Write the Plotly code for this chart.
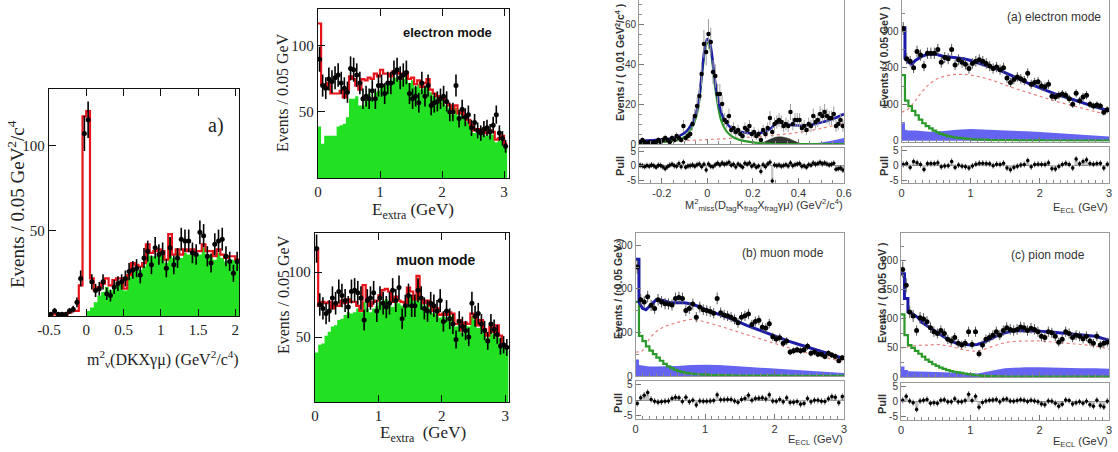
import numpy as np
import plotly.graph_objects as go

W, H = 1118, 452

# ================= DATA =================
# ---- panel a) : m_nu^2 (DKXγμ), bins of 0.05 starting at -0.5
a_start, a_width = -0.5, 0.05
a_total = [1, 1, 1, 1, 1, 2, 3, 3, 18, 117,
           120, 22, 15, 17, 19, 22, 18, 21, 22, 22,
           16, 24, 31, 30, 29, 31, 42, 37, 38, 39,
           38, 33, 48, 36, 39, 36, 39, 38, 39, 38,
           38, 42, 38, 38, 35, 39, 36, 34, 35, 35, 33]
a_background = [0, 0, 0, 0, 0, 0, 0, 0, 0, 0,
                3, 5, 8, 12, 14, 17, 15, 18, 19, 20,
                15, 23, 28, 28, 27, 29, 40, 35, 35, 37,
                36, 31, 46, 34, 37, 34, 37, 36, 37, 36,
                36, 40, 36, 36, 33, 37, 34, 32, 33, 33, 31]
a_data = [1, 3, 1, 1, 1, 3, 4, 8, 22, 107,
          115, 20, 15, 16, 20, 13, 12, 17, 19, 20,
          22, 26, 27, 28, 24, 34, 38, 30, 40, 36,
          37, 28, 40, 30, 34, 45, 44, 44, 37, 36,
          49, 47, 35, 31, 42, 44, 45, 35, 32, 25, 32]

# ---- electron mode E_extra, bins of 0.05 from 0
b_start, b_width = 0.0, 0.05
b_total = [117, 71, 68, 72, 64, 64, 64, 66, 61, 67,
           77, 75, 70, 67, 75, 74, 76, 75, 79, 77,
           82, 79, 79, 77, 81, 80, 79, 78, 80, 75,
           76, 71, 74, 69, 72, 75, 67, 64, 62, 60,
           61, 57, 55, 50, 55, 49, 51, 47, 44, 40,
           36, 37, 36, 35, 34, 36, 35, 29, 30, 32, 26]
b_background = [39, 26, 32, 32, 32, 32, 39, 40, 41, 46,
                60, 60, 62, 55, 55, 60, 64, 60, 65, 66,
                70, 71, 72, 72, 76, 76, 74, 75, 77, 72,
                74, 69, 71, 67, 69, 72, 65, 62, 60, 58,
                59, 55, 53, 48, 53, 47, 49, 45, 42, 38,
                34, 35, 34, 33, 32, 34, 33, 27, 28, 30, 24]
b_data = [90, 70, 68, 75, 73, 76, 78, 72, 68, 65,
          83, 82, 78, 72, 60, 62, 60, 66, 60, 70,
          70, 64, 72, 72, 80, 82, 76, 78, 80, 64,
          60, 62, 57, 72, 62, 70, 55, 57, 58, 60,
          62, 58, 50, 50, 70, 45, 52, 46, 48, 38,
          42, 36, 34, 37, 38, 35, 40, 48, 34, 30, 24]

# ---- muon mode E_extra
c_start, c_width = 0.0, 0.05
c_total = [118, 74, 77, 76, 77, 72, 76, 74, 78, 76,
           79, 77, 77, 74, 70, 90, 78, 74, 77, 78,
           82, 86, 87, 85, 77, 81, 78, 77, 76, 88,
           85, 79, 97, 79, 76, 78, 74, 70, 72, 67,
           68, 67, 69, 68, 60, 63, 55, 61, 60, 68,
           65, 59, 63, 56, 51, 58, 54, 59, 51, 44, 42]
c_background = [38, 44, 45, 51, 54, 58, 59, 63, 64, 67,
                69, 68, 69, 72, 69, 77, 72, 69, 72, 74,
                77, 78, 79, 78, 73, 77, 76, 74, 74, 85,
                82, 78, 94, 77, 74, 76, 72, 68, 70, 65,
                66, 65, 67, 66, 58, 61, 53, 59, 58, 66,
                63, 57, 61, 54, 49, 56, 52, 57, 49, 42, 40]
c_data = [118, 75, 72, 68, 70, 80, 76, 85, 82, 78,
          73, 85, 86, 84, 80, 63, 78, 80, 84, 70,
          80, 76, 73, 76, 86, 78, 88, 64, 74, 82,
          74, 74, 86, 80, 72, 70, 76, 74, 70, 78,
          62, 70, 64, 60, 48, 62, 58, 55, 50, 76,
          66, 68, 60, 55, 47, 60, 56, 52, 43, 44, 42]

# ---- Belle M_miss^2, bins of 0.01 from -0.3
d_start, d_width = -0.3, 0.01
d_data = [1, 2, 1, 0, 1, 0, 1, 1, 2, 1,
          2, 3, 2, 1, 3, 2, 4, 3, 2, 9,
          3, 4, 5, 10, 14, 19, 24, 35, 50, 46,
          55, 51, 36, 34, 25, 25, 20, 12, 11, 14,
          7, 8, 6, 7, 5, 4, 8, 7, 9, 5,
          6, 4, 5, 2, 7, 5, 8, 13, 6, 10,
          11, 12, 11, 9, 10, 9, 16, 10, 12, 12,
          12, 8, 9, 7, 10, 9, 14, 11, 12, 15,
          14, 16, 14, 13, 13, 15, 9, 10, 12, 9]
d_pull = [0.2, 0.0, -0.3, 0.1, -0.2, 0.3, 0.0, -0.5, 0.2, 0.1,
          -0.4, -1.0, -0.3, 0.2, 0.5, 0.0, -0.2, 0.8, -0.3, 1.2,
          -0.5, -0.1, 0.0, 0.3, -0.2, 0.4, 0.6, -0.3, 0.5, -1.5,
          0.6, -0.2, -0.3, 0.4, 0.9, 0.3, 1.0, 0.5, 0.8, 1.2,
          0.2, 0.5, -0.4, 0.6, 0.1, -0.5, 0.9, 0.5, 1.0, -0.2,
          0.4, -0.5, -0.1, -2.0, 0.4, -0.3, 0.6, 1.2, -5.3, 0.3,
          0.0, 0.3, -0.2, 0.1, 0.4, -0.1, 1.0, 0.0, 0.4, 0.6,
          0.8, -0.2, 0.0, -0.5, 0.4, 0.2, 1.0, 0.5, 0.8, 1.2,
          0.7, 1.0, 0.6, 0.3, 0.5, 0.9, -1.2, -1.0, -0.8, -1.5]
d_curve_x = [-0.3, -0.2, -0.15, -0.1, -0.08, -0.06, -0.04, -0.03, -0.02, -0.01, 0.0,
             0.01, 0.02, 0.03, 0.04, 0.05, 0.06, 0.08, 0.1, 0.12, 0.15, 0.2,
             0.25, 0.28, 0.3, 0.32, 0.35, 0.4, 0.45, 0.5, 0.55, 0.6]
d_total = [1.5, 2.2, 3, 5.5, 8, 12, 20, 29, 40, 49, 52.5,
           51, 45, 35, 27, 21, 16, 11, 8.5, 7, 6, 5.3,
           6, 8, 10, 10.8, 9.8, 9.2, 9.5, 10.8, 12.5, 15]
d_signal = [0.5, 1, 1.5, 3.5, 6, 10, 18, 27, 38, 47, 50.5,
            49, 43, 32, 24, 17, 12, 7, 4.5, 3, 1.8, 0.8,
            0.3, 0.1, 0, 0, 0, 0, 0, 0, 0, 0]
d_comb_x = [-0.3, -0.2, -0.1, 0.0, 0.1, 0.2, 0.3, 0.4, 0.5, 0.6]
d_comb = [1, 1.3, 1.7, 2.2, 2.8, 3.5, 4.5, 5.8, 7.8, 10.5]
d_bump_x = [0.22, 0.25, 0.28, 0.3, 0.32, 0.34, 0.36, 0.38, 0.4, 0.42]
d_bump = [0, 1.0, 2.6, 3.4, 3.6, 3.3, 2.6, 1.6, 0.6, 0]
d_peak_x = [0.45, 0.5, 0.55, 0.6]
d_peak = [0, 0.8, 1.8, 3.0]

# ---- Belle E_ECL, bins of 0.05 from 0 (three modes)
e_start, e_width = 0.0, 0.05
# (a) electron mode
e_data = [308, 225, 218, 200, 245, 235, 205, 240, 240, 240,
          250, 215, 228, 225, 250, 208, 222, 215, 210, 198,
          212, 218, 222, 218, 212, 205, 198, 202, 195, 200,
          172, 160, 168, 175, 170, 165, 185, 155, 160, 162,
          150, 148, 155, 122, 120, 125, 128, 125, 115, 100,
          130, 110, 120, 125, 100, 95, 98, 95, 78, 85]
e_signal = [180, 110, 95, 82, 70, 58, 48, 40, 34, 28,
            23, 19, 16, 13, 11, 9, 8, 7, 6, 5,
            4, 4, 3, 3, 3, 2, 2, 2, 2, 2,
            1.5, 1.5, 1.5, 1.2, 1.2, 1.2, 1, 1, 1, 1,
            1, 0.8, 0.8, 0.8, 0.8, 0.7, 0.7, 0.7, 0.6, 0.6,
            0.6, 0.6, 0.5, 0.5, 0.5, 0.5, 0.5, 0.5, 0.5, 0.5]
e_pull = [0.2, 0.5, -0.8, 1.2, 0.8, 0.2, -1.5, 0.5, 0.5, 0.5,
          0.8, -0.6, -0.3, -0.2, 1.2, -0.8, 0.0, -0.4, -0.6, -1.0,
          -0.3, 0.3, 0.6, 0.6, 0.5, 0.4, -0.2, 0.3, 0.2, 0.6,
          -1.0, -1.6, -0.8, -0.4, 0.0, 0.2, 1.5, -0.6, 0.2, 0.3,
          0.2, 0.2, 0.8, -1.2, -1.3, -0.5, 0.2, 0.6, 0.2, -1.0,
          2.0, 0.4, 1.2, 1.8, 0.5, 0.3, 0.5, 0.6, -1.0, 0.3]
e_total_x = [0, 0.05, 0.05, 0.1, 0.15, 0.2, 0.3, 0.4, 0.5, 0.6, 0.7, 0.8, 0.9, 1.0,
             1.2, 1.4, 1.6, 1.8, 2.0, 2.2, 2.4, 2.6, 2.8, 3.0]
e_total = [310, 310, 225, 215, 210, 220, 232, 238, 237, 232, 230, 228, 225, 220,
           208, 195, 178, 160, 145, 130, 118, 105, 93, 82]
e_comb_x = [0, 0.1, 0.2, 0.3, 0.4, 0.5, 0.6, 0.7, 0.8, 0.9, 1.0,
            1.2, 1.4, 1.6, 1.8, 2.0, 2.2, 2.4, 2.6, 2.8, 3.0]
e_comb = [78, 88, 110, 135, 155, 168, 176, 180, 182, 182, 180,
          172, 160, 146, 134, 122, 110, 100, 90, 80, 72]
e_peak_x = [0, 0.05, 0.05, 0.1, 0.2, 0.3, 0.4, 0.5, 0.6, 0.8, 1.0,
            1.2, 1.4, 1.6, 1.8, 2.0, 2.2, 2.4, 2.6, 2.8, 3.0]
e_peak = [48, 48, 30, 28, 28, 26, 25, 25, 27, 30, 32,
          31, 30, 28, 26, 24, 22, 20, 17, 14, 12]

# (b) muon mode
f_data = [250, 175, 170, 182, 162, 155, 175, 170, 166, 165,
          163, 178, 180, 178, 150, 155, 165, 135, 158, 152,
          150, 148, 144, 178, 145, 140, 138, 135, 130, 122,
          135, 138, 142, 118, 125, 128, 112, 110, 120, 90,
          85, 88, 75, 80, 55, 58, 60, 58, 60, 68,
          52, 55, 50, 50, 45, 52, 48, 45, 35, 42]
f_signal = [170, 92, 80, 68, 58, 50, 42, 35, 28, 22,
            18, 14, 11, 9, 7, 6, 5, 4, 4, 3,
            3, 2, 2, 2, 2, 1.5, 1.5, 1.5, 1.2, 1.2,
            1, 1, 1, 1, 1, 0.8, 0.8, 0.8, 0.8, 0.8,
            0.7, 0.7, 0.7, 0.6, 0.6, 0.6, 0.6, 0.5, 0.5, 0.5,
            0.5, 0.5, 0.5, 0.5, 0.5, 0.5, 0.5, 0.5, 0.5, 0.5]
f_pull = [-1.0, 0.8, 1.6, 2.5, 0.3, -0.3, -0.6, -0.5, -0.3, -0.2,
          0.6, 1.0, 0.8, -0.4, 1.0, -0.5, 0.0, -1.5, -0.2, -0.3,
          -0.3, -0.2, -0.1, 1.8, 0.2, 0.2, 0.3, 0.3, -0.2, -0.6,
          0.3, 0.6, 1.6, 0.0, 0.6, 0.7, 0.8, 0.4, 1.8, -0.2,
          -0.3, 0.3, -0.5, 0.8, -0.7, -0.6, -0.4, -1.3, -1.0, 0.6,
          -0.5, 0.0, 0.0, -0.3, -0.4, 0.5, 1.2, 1.0, -0.8, 1.2]
f_total_x = [0, 0.05, 0.05, 0.1, 0.15, 0.2, 0.3, 0.4, 0.5, 0.6, 0.7, 0.8, 0.9, 1.0,
             1.2, 1.4, 1.6, 1.8, 2.0, 2.2, 2.4, 2.6, 2.8, 3.0]
f_total = [268, 268, 170, 155, 152, 160, 175, 173, 168, 168, 168, 165, 160, 153,
           142, 130, 116, 104, 92, 80, 70, 60, 50, 40]
f_comb_x = [0, 0.1, 0.2, 0.3, 0.4, 0.5, 0.6, 0.7, 0.8, 0.9, 1.0,
            1.2, 1.4, 1.6, 1.8, 2.0, 2.2, 2.4, 2.6, 2.8, 3.0]
f_comb = [55, 58, 85, 102, 112, 118, 123, 127, 130, 128, 124,
          115, 105, 95, 85, 75, 65, 56, 48, 40, 32]
f_peak_x = [0, 0.05, 0.05, 0.1, 0.2, 0.3, 0.4, 0.5, 0.6, 0.8, 1.0,
            1.2, 1.4, 1.6, 1.8, 2.0, 2.2, 2.4, 2.6, 2.8, 3.0]
f_peak = [38, 38, 25, 24, 22, 22, 22, 22, 23, 25, 26,
          25, 23, 21, 19, 17, 15, 13, 11, 9, 7]

# (c) pion mode
g_data = [185, 158, 112, 105, 80, 102, 100, 95, 85, 78,
          75, 80, 75, 65, 62, 68, 58, 55, 58, 78,
          56, 78, 40, 55, 65, 68, 72, 78, 72, 80,
          85, 82, 80, 82, 86, 85, 80, 84, 82, 78,
          70, 68, 78, 76, 70, 60, 65, 78, 75, 68,
          72, 70, 66, 70, 62, 58, 70, 55, 58, 60]
g_signal = [108, 72, 55, 50, 45, 40, 35, 30, 26, 22,
            19, 16, 14, 12, 10, 9, 8, 7, 6, 5,
            4, 3, 3, 2, 2, 1.5, 1.5, 1, 1, 1,
            0.8, 0.8, 0.8, 0.7, 0.7, 0.7, 0.6, 0.6, 0.6, 0.6,
            0.5, 0.5, 0.5, 0.5, 0.5, 0.5, 0.5, 0.5, 0.5, 0.5,
            0.5, 0.5, 0.5, 0.5, 0.5, 0.5, 0.5, 0.5, 0.5, 0.5]
g_pull = [0.5, 1.8, 0.3, -0.3, -2.5, 0.3, 0.5, 0.8, -0.5, -0.3,
          -0.5, 0.5, 0.7, 0.0, 0.0, 1.0, 0.0, 0.0, 0.4, 2.5,
          0.4, 1.8, -1.8, -0.2, 0.3, 0.5, 0.6, 0.8, 0.0, 0.8,
          0.9, 0.3, 0.2, 0.4, 0.7, 0.5, 0.1, 0.5, 0.3, 0.0,
          -0.7, -1.0, 0.3, 0.2, -0.5, -1.5, -0.8, 0.6, 0.4, -0.7,
          -0.3, 0.0, -0.5, 0.2, -1.0, -1.5, 0.5, -1.3, -1.7, 0.2]
g_total_x = [0, 0.05, 0.05, 0.1, 0.1, 0.15, 0.2, 0.25, 0.3,
             0.4, 0.5, 0.6, 0.7, 0.8, 0.9, 1.0, 1.1, 1.2, 1.3, 1.4, 1.5, 1.6, 1.7, 1.8, 1.9, 2.0,
             2.2, 2.4, 2.6, 2.8, 3.0]
g_total = [178, 178, 135, 135, 112, 110, 106, 102, 94,
           86, 78, 70, 63, 58, 56, 55, 56, 60, 66, 72, 76, 79, 80, 80, 80, 79,
           77, 75, 73, 70, 63]
g_comb_x = [0, 0.1, 0.2, 0.3, 0.4, 0.5, 0.6, 0.7, 0.8, 0.9, 1.0, 1.1, 1.2,
            1.3, 1.4, 1.5, 1.6, 1.8, 2.0, 2.2, 2.4, 2.6, 2.8, 3.0]
g_comb = [50, 52, 54, 55, 55, 56, 55, 53, 50, 47, 45, 45, 48,
          52, 56, 59, 61, 62, 62, 60, 58, 56, 53, 48]
g_peak_x = [0, 0.05, 0.05, 0.1, 0.1, 0.3, 0.4, 0.6, 0.8, 1.0,
            1.1, 1.2, 1.3, 1.4, 1.5, 1.6, 1.8, 2.0, 2.2, 2.4, 2.6, 2.8, 3.0]
g_peak = [18, 18, 12, 12, 10, 10, 9, 8, 7, 7,
          6, 8, 11, 13, 15, 16, 17, 17, 16, 16, 15, 15, 14]

# ================= STYLE =================
SERIF = "Liberation Serif, Times New Roman, serif"
SANS = "Liberation Sans, Arial, sans-serif"
NARROW = "Liberation Sans Narrow, Arial Narrow, Liberation Sans, sans-serif"
RED = "#e8141c"
LIME = "#22e022"
FIT_BLUE = "#1c1ca8"
FIT_GREEN = "#2a9a2a"
PEAK_BLUE = "#6464f0"
COMB_RED = "#e88080"

fig = go.Figure()


def refs(i):
    return ("x" if i == 1 else f"x{i}", "y" if i == 1 else f"y{i}")


def step_line(start, width, vals, i, color, lw, fill=None):
    edges = start + width * np.arange(len(vals) + 1)
    yv = list(vals) + [vals[-1]]
    xa, ya = refs(i)
    fig.add_trace(go.Scatter(
        x=edges, y=yv, mode="lines", xaxis=xa, yaxis=ya, hoverinfo="skip",
        line=dict(shape="hv", color=color, width=lw),
        fill="tozeroy" if fill else None, fillcolor=fill))


def data_points(start, width, vals, i, size, ecolor, ethick):
    centers = start + width * (np.arange(len(vals)) + 0.5)
    err = np.sqrt(np.maximum(np.array(vals, dtype=float), 1.0))
    xa, ya = refs(i)
    fig.add_trace(go.Scatter(
        x=centers, y=vals, mode="markers", xaxis=xa, yaxis=ya, hoverinfo="skip",
        marker=dict(color="black", size=size),
        error_y=dict(type="data", array=err, color=ecolor, thickness=ethick, width=0)))


def curve(xv, yv, i, color, lw, dash="solid", shape="linear", fill=None):
    xa, ya = refs(i)
    fig.add_trace(go.Scatter(
        x=xv, y=yv, mode="lines", xaxis=xa, yaxis=ya, hoverinfo="skip",
        line=dict(color=color, width=lw, dash=dash, shape=shape),
        fill="tozeroy" if fill else None, fillcolor=fill))


def pull_panel(start, width, vals, i):
    centers = start + width * (np.arange(len(vals)) + 0.5)
    xa, ya = refs(i)
    fig.add_trace(go.Bar(x=centers, y=vals, width=width, xaxis=xa, yaxis=ya,
                         marker=dict(color="#c4c4c4", line=dict(width=0)), hoverinfo="skip"))
    fig.add_trace(go.Scatter(
        x=centers, y=vals, mode="markers", xaxis=xa, yaxis=ya, hoverinfo="skip",
        marker=dict(color="black", size=3.5),
        error_y=dict(type="constant", value=1.0, color="#555", thickness=1, width=0)))


# ---- left-side panels
step_line(a_start, a_width, a_background, 1, LIME, 0, fill=LIME)
step_line(a_start, a_width, a_total, 1, RED, 2.2)
data_points(a_start, a_width, a_data, 1, 5, "black", 1.6)

step_line(b_start, b_width, b_background, 2, LIME, 0, fill=LIME)
step_line(b_start, b_width, b_total, 2, RED, 2.2)
data_points(b_start, b_width, b_data, 2, 5, "black", 1.6)

step_line(c_start, c_width, c_background, 3, LIME, 0, fill=LIME)
step_line(c_start, c_width, c_total, 3, RED, 2.2)
data_points(c_start, c_width, c_data, 3, 5, "black", 1.6)

# ---- Belle M_miss^2 panel
curve(d_peak_x, d_peak, 4, PEAK_BLUE, 0, fill=PEAK_BLUE, shape="spline")
curve(d_bump_x, d_bump, 4, "#2a3a2a", 0.5, fill="#333333", shape="spline")
curve(d_comb_x, d_comb, 4, COMB_RED, 1.2, dash="dot", shape="spline")
curve(d_curve_x, d_signal, 4, FIT_GREEN, 2.2, shape="spline")
curve(d_curve_x, d_total, 4, FIT_BLUE, 2.5, shape="spline")
data_points(d_start, d_width, d_data, 4, 4.5, "#a0a0a0", 1)
pull_panel(d_start, d_width, d_pull, 5)

# ---- Belle E_ECL panels
for (i, dat, sig, pull, tx, ty, cx, cy, px_, py_) in [
        (6, e_data, e_signal, e_pull, e_total_x, e_total, e_comb_x, e_comb, e_peak_x, e_peak),
        (8, f_data, f_signal, f_pull, f_total_x, f_total, f_comb_x, f_comb, f_peak_x, f_peak),
        (10, g_data, g_signal, g_pull, g_total_x, g_total, g_comb_x, g_comb, g_peak_x, g_peak)]:
    curve(px_, py_, i, PEAK_BLUE, 0, fill=PEAK_BLUE)
    curve(cx, cy, i, COMB_RED, 1.2, dash="dot", shape="spline")
    step_line(e_start, e_width, sig, i, FIT_GREEN, 2.2)
    curve(tx, ty, i, FIT_BLUE, 3)
    data_points(e_start, e_width, dat, i, 5, "#555", 1)
    pull_panel(e_start, e_width, pull, i + 1)

# ================= AXES =================
layout = dict(width=W, height=H, margin=dict(l=0, r=0, t=0, b=0, pad=0, autoexpand=False),
              paper_bgcolor="white", plot_bgcolor="rgba(0,0,0,0)",
              showlegend=False, barmode="overlay")


def set_axes(i, xpx, ypx, xcfg, ycfg):
    xk = "xaxis" if i == 1 else f"xaxis{i}"
    yk = "yaxis" if i == 1 else f"yaxis{i}"
    xa, ya = refs(i)
    xd = dict(domain=[xpx[0] / W, xpx[1] / W], anchor=ya, showgrid=False, zeroline=False,
              automargin=False)
    xd.update(xcfg)
    yd = dict(domain=[1 - ypx[1] / H, 1 - ypx[0] / H], anchor=xa, showgrid=False, zeroline=False,
              automargin=False)
    yd.update(ycfg)
    layout[xk] = xd
    layout[yk] = yd


def left_axis(rng, vals, text, mirror="ticks"):
    return dict(range=rng, showline=True, linecolor="#111", linewidth=1.3, mirror=mirror,
                ticks="inside", ticklen=7, tickwidth=1.2, tickcolor="#111",
                tickmode="array", tickvals=vals, ticktext=text,
                tickfont=dict(family=SERIF, size=15, color="#222"))


def right_axis(rng, vals, text, minor, labels=True, size=10):
    return dict(range=rng, showline=True, linecolor="#9a9a9a", linewidth=1, mirror=True,
                ticks="inside", ticklen=5, tickwidth=1, tickcolor="#777",
                tickmode="array", tickvals=vals, ticktext=text, showticklabels=labels,
                tickfont=dict(family=NARROW, size=size, color="#333"),
                minor=dict(ticks="inside", ticklen=3, tickcolor="#888", dtick=minor, showgrid=False))


a_yrange, b_yrange, c_yrange = [0, 133], [0, 128], [0, 130]
left_yticks = [50, 100]

set_axes(1, (49, 239), (89, 316),
         left_axis([-0.5, 2.05], [-0.5, 0, 0.5, 1, 1.5, 2], ["-0.5", "0", "0.5", "1", "1.5", "2"]),
         left_axis(a_yrange, left_yticks, ["50", "100"], mirror=True))
set_axes(2, (318, 509), (9, 178),
         left_axis([0, 3.08], [0, 1, 2, 3], ["0", "1", "2", "3"]),
         left_axis(b_yrange, left_yticks, ["50", "100"], mirror=True))
set_axes(3, (315, 509), (233, 402),
         left_axis([0, 3.06], [0, 1, 2, 3], ["0", "1", "2", "3"]),
         left_axis(c_yrange, left_yticks, ["50", "100"], mirror=True))

# right-hand tick marks of the left-side panels (overlay axes, no labels)
for k, (base, xa, rng) in enumerate([("y", "x", a_yrange), ("y2", "x2", b_yrange),
                                      ("y3", "x3", c_yrange)]):
    layout[f"yaxis{12 + k}"] = dict(overlaying=base, anchor=xa, side="right", range=rng,
                                    showline=False, showgrid=False, zeroline=False,
                                    ticks="inside", ticklen=7, tickwidth=1.2, tickcolor="#111",
                                    tickmode="array", tickvals=left_yticks,
                                    showticklabels=False, automargin=False)

pull_y = dict(range=[-6, 6.2], showline=True, linecolor="#9a9a9a", linewidth=1, mirror=True,
              ticks="inside", ticklen=5, tickcolor="#777", tickmode="array",
              tickvals=[-5, 0, 5], ticktext=["-5", "0", "5"],
              tickfont=dict(family=NARROW, size=10, color="#333"),
              zeroline=True, zerolinecolor="#8a8a8a", zerolinewidth=1)

set_axes(4, (639, 844), (0, 144),
         right_axis([-0.3, 0.6], [-0.2, 0, 0.2, 0.4, 0.6], None, 0.05, labels=False),
         right_axis([0, 72], [0, 20, 40, 60], ["0", "20", "40", "60"], 5))
set_axes(5, (639, 844), (148, 183),
         right_axis([-0.3, 0.6], [-0.2, 0, 0.2, 0.4, 0.6], ["-0.2", "0", "0.2", "0.4", "0.6"], 0.05, size=11),
         pull_y)
set_axes(6, (901.5, 1109), (0, 141.5),
         right_axis([0, 3], [0, 1, 2, 3], None, 0.1, labels=False),
         right_axis([-2, 386], [0, 100, 200, 300], ["0", "100", "200", "300"], 50))
set_axes(7, (901.5, 1109), (146.5, 183),
         right_axis([0, 3], [0, 1, 2, 3], ["0", "1", "2", "3"], 0.1, size=11),
         pull_y)
set_axes(8, (635.5, 844), (233, 376),
         right_axis([0, 3], [0, 1, 2, 3], None, 0.1, labels=False),
         right_axis([0, 328], [0, 100, 200, 300], ["0", "100", "200", "300"], 50))
set_axes(9, (635.5, 844), (381, 419),
         right_axis([0, 3], [0, 1, 2, 3], ["0", "1", "2", "3"], 0.1, size=11),
         pull_y)
set_axes(10, (901, 1109), (233, 377),
         right_axis([0, 3], [0, 1, 2, 3], None, 0.1, labels=False),
         right_axis([0, 248], [0, 50, 100, 150, 200], ["0", "50", "100", "150", "200"], 25))
set_axes(11, (901, 1109), (383, 420),
         right_axis([0, 3], [0, 1, 2, 3], ["0", "1", "2", "3"], 0.1, size=11),
         pull_y)

# ================= TEXT =================
anns = []


def ann(text, x, y, size, family, color="#222", angle=0, xanchor="center", yanchor="middle"):
    anns.append(dict(text=text, x=x / W, y=1 - y / H, xref="paper", yref="paper",
                     showarrow=False, textangle=angle, xanchor=xanchor, yanchor=yanchor,
                     font=dict(size=size, family=family, color=color)))


ann("Events / 0.05 GeV<sup>2</sup>/c<sup>4</sup>", 16, 204, 19, SERIF, angle=-90)
ann("m<sup>2</sup><sub>ν</sub>(DKXγμ) (GeV<sup>2</sup>/c<sup>4</sup>)", 163, 359, 16, SERIF)
ann("a)", 216, 125, 20, SERIF)

ann("Events / 0.05 GeV", 283, 93, 16, SERIF, angle=-90)
ann("E<sub>extra</sub> (GeV)", 413, 211, 17, SERIF)
ann("<b>electron mode</b>", 447, 33, 13, SANS, color="#111")

ann("Events / 0.05 GeV", 283, 295, 16, SERIF, angle=-90)
ann("E<sub>extra</sub>  (GeV)", 423, 434, 17, SERIF)
ann("<b>muon mode</b>", 436, 260, 14, SANS, color="#111")

GR = "#333"
ann("<b>Events / ( 0.01 GeV<sup>2</sup>/c<sup>4</sup> )</b>", 620, 63, 10.5, SANS, GR, angle=-90)
ann("<b>Pull</b>", 620, 166, 11, SANS, GR, angle=-90)
ann("M<sup>2</sup><sub>miss</sub>(D<sub>tag</sub>K<sub>frag</sub>X<sub>frag</sub>γμ) (GeV<sup>2</sup>/c<sup>4</sup>)",
    845, 205, 11, NARROW, GR, xanchor="right")

ann("<b>Events / ( 0.05 GeV )</b>", 884, 57, 10.5, SANS, GR, angle=-90)
ann("<b>Pull</b>", 884, 166, 11, SANS, GR, angle=-90)
ann("E<sub>ECL</sub> (GeV)", 1110, 208, 11, NARROW, GR, xanchor="right")
ann("(a) electron mode", 1054, 17, 12, NARROW, GR)

ann("<b>Events / ( 0.05 GeV )</b>", 618, 289, 10.5, SANS, GR, angle=-90)
ann("<b>Pull</b>", 618, 403, 11, SANS, GR, angle=-90)
ann("E<sub>ECL</sub> (GeV)", 845, 440, 11, NARROW, GR, xanchor="right")
ann("(b) muon mode", 783, 253, 12, NARROW, GR)

ann("<b>Events / ( 0.05 GeV )</b>", 882, 293, 10.5, SANS, GR, angle=-90)
ann("<b>Pull</b>", 882, 404, 11, SANS, GR, angle=-90)
ann("E<sub>ECL</sub> (GeV)", 1110, 442, 11, NARROW, GR, xanchor="right")
ann("(c) pion mode", 1048, 255, 12, NARROW, GR)

layout["annotations"] = anns
fig.update_layout(**layout)
fig.write_html("out.html",
               config={"displayModeBar": False},
               post_script="document.body.style.margin='0';document.body.style.padding='0';"
                           "document.body.style.overflow='hidden';")
